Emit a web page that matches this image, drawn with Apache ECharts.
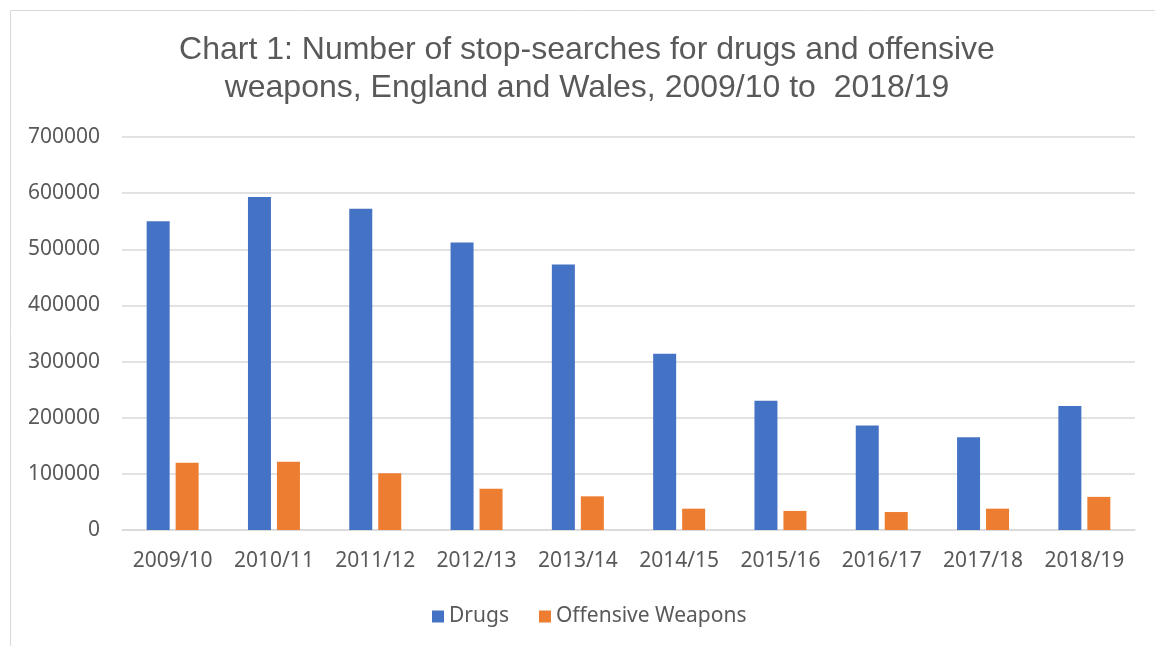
<!DOCTYPE html>
<html>
<head>
<meta charset="utf-8">
<script src="https://cdn.jsdelivr.net/npm/echarts@6/dist/echarts.min.js"></script>
<style>
html,body{margin:0;padding:0;background:#fff;}
#chart{width:1155px;height:646px;}
</style>
</head>
<body>
<div id="chart"></div>
<script>
const titleText = 'Chart 1: Number of stop-searches for drugs and offensive\nweapons, England and Wales, 2009/10 to  2018/19';
const categories = ['2009/10','2010/11','2011/12','2012/13','2013/14','2014/15','2015/16','2016/17','2017/18','2018/19'];
const drugs = [550000, 593000, 572000, 512000, 473000, 314000, 230000, 186000, 165000, 221000];
const offensiveWeapons = [120000, 121500, 101000, 73500, 60000, 38000, 34000, 32000, 38000, 59000];
const seriesNames = ['Drugs', 'Offensive Weapons'];

const chart = echarts.init(document.getElementById('chart'), null, {renderer: 'canvas'});
const axisFont = 'Noto Sans';
chart.setOption({
  backgroundColor: '#ffffff',
  animation: false,
  graphic: [{
    type: 'rect',
    shape: {x: 10.5, y: 10.5, width: 1300, height: 800},
    style: {fill: 'none', stroke: '#d9d9d9', lineWidth: 1},
    silent: true
  }, {
    type: 'text',
    x: 587,
    y: 31,
    silent: true,
    style: {
      text: titleText,
      align: 'center',
      verticalAlign: 'top',
      fontFamily: 'Liberation Sans',
      fontSize: 32,
      lineHeight: 38,
      fill: '#595959'
    }
  }],
  legend: {
    data: seriesNames,
    bottom: 14,
    left: 427,
    icon: 'rect',
    itemWidth: 12,
    itemHeight: 12,
    itemGap: 30,
    textStyle: {fontFamily: axisFont, fontSize: 21, color: '#595959'}
  },
  grid: {left: 122, right: 20, top: 137, bottom: 116},
  xAxis: {
    type: 'category',
    data: categories,
    axisLine: {show: true, lineStyle: {color: '#d9d9d9', width: 1.5}},
    axisTick: {show: false},
    axisLabel: {interval: 0, fontFamily: axisFont, fontSize: 21, color: '#595959', margin: 21}
  },
  yAxis: {
    type: 'value',
    min: 0,
    max: 700000,
    interval: 100000,
    axisLine: {show: false},
    axisTick: {show: false},
    splitLine: {lineStyle: {color: '#d9d9d9', width: 1.5}},
    axisLabel: {fontFamily: axisFont, fontSize: 21, color: '#595959', margin: 22, formatter: function (v) { return String(v); }}
  },
  series: [
    {name: seriesNames[0], type: 'bar', data: drugs, barWidth: 23, barGap: '26%', itemStyle: {color: '#4472C4'}},
    {name: seriesNames[1], type: 'bar', data: offensiveWeapons, barWidth: 23, barGap: '26%', itemStyle: {color: '#ED7D31'}}
  ]
});
</script>
</body>
</html>
